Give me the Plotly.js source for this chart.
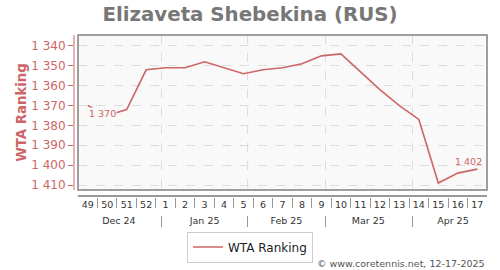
<!DOCTYPE html>
<html>
<head>
<meta charset="utf-8">
<script src="https://cdn.plot.ly/plotly-3.0.1.min.js"></script>
<style>html,body{margin:0;padding:0;background:#fff;}#chart{width:500px;height:270px;}</style>
</head>
<body>
<div id="chart"></div>
<script>
const weeks = ['49','50','51','52','1','2','3','4','5','6','7','8','9','10','11','12','13','14','15','16','17'];
const ranking = [1370,1375,1372,1352,1351,1351,1348,1351,1354,1352,1351,1349,1345,1344,1353,1362,1370,1377,1409,1404,1402];
const monthLabels = ['Dec 24','Jan 25','Feb 25','Mar 25','Apr 25'];
const monthCenters = [1.6, 6.0, 10.2, 14.4, 18.75];
const monthBounds = [3.78, 8.21, 12.22, 16.65];
const yTicks = [1340,1350,1360,1370,1380,1390,1400,1410];

const idx = weeks.map((w, i) => i);
const sepVals = weeks.slice(1).map((w, i) => i + 0.5);
const RED = '#cd6666';
const FONT = 'DejaVu Sans';
const xr = [-0.5, 20.5];
const fmt = v => String(v).replace(/(\d)(\d{3})$/, '$1 $2');

const traces = [
  {x: idx, y: ranking, type: 'scatter', mode: 'lines', name: 'WTA Ranking',
   line: {color: RED, width: 1.6}, xaxis: 'x', yaxis: 'y'},
  {x: [], y: [], type: 'scatter', xaxis: 'x2', yaxis: 'y', showlegend: false},
  {x: [], y: [], type: 'scatter', xaxis: 'x3', yaxis: 'y', showlegend: false},
  {x: [], y: [], type: 'scatter', xaxis: 'x4', yaxis: 'y', showlegend: false},
  {x: [], y: [], type: 'scatter', xaxis: 'x5', yaxis: 'y', showlegend: false}
];

const dom = [5/414, 1];
const P = y => (230 - y) / 195;
const base = {range: xr, domain: dom, anchor: 'free', overlaying: 'x', showgrid: false, zeroline: false, fixedrange: true};

const layout = {
  width: 500, height: 270,
  margin: {l: 73, r: 13, t: 35, b: 40, autoexpand: false},
  paper_bgcolor: '#ffffff',
  plot_bgcolor: '#f9f9f9',
  separators: ', ',
  font: {family: FONT, size: 11, color: '#333'},
  title: {text: 'Elizaveta Shebekina (RUS)', font: {family: FONT, size: 19.8, color: '#777777', weight: 'bold'},
          x: 0.5, xref: 'container', xanchor: 'center', y: 1 - 14/270, yref: 'container', yanchor: 'middle'},
  showlegend: true,
  legend: {orientation: 'h', x: (250-73)/414, xanchor: 'center', y: P(247), yanchor: 'middle',
           bordercolor: '#cccccc', borderwidth: 1, bgcolor: '#ffffff',
           font: {family: FONT, size: 12, color: '#222'}},
  xaxis: {range: xr, domain: dom, anchor: 'free', position: P(195),
          tickvals: monthBounds, showticklabels: false, ticks: '',
          showgrid: true, gridcolor: '#dddddd', griddash: 'dash', gridwidth: 1,
          showline: true, linecolor: '#999999', linewidth: 1.5, zeroline: false, fixedrange: true},
  xaxis2: Object.assign({}, base, {position: P(197), tickvals: idx, ticktext: weeks, ticks: '',
          tickfont: {family: FONT, size: 9.5, color: '#333'}, showline: false}),
  xaxis3: Object.assign({}, base, {position: P(197), tickvals: sepVals, showticklabels: false,
          ticks: 'outside', ticklen: 10, tickcolor: '#999999', tickwidth: 1, showline: false}),
  xaxis4: Object.assign({}, base, {position: P(215), tickvals: monthBounds, showticklabels: false,
          ticks: 'outside', ticklen: 11, tickcolor: '#999999', tickwidth: 1, showline: false}),
  xaxis5: Object.assign({}, base, {position: P(213), tickvals: monthCenters, ticktext: monthLabels, ticks: '',
          tickfont: {family: FONT, size: 9.5, color: '#333'}, showline: false}),
  yaxis: {domain: [P(190), 1], range: [1412.5, 1334.5], anchor: 'free', position: 0,
          tickvals: yTicks, tickformat: ',d', ticks: 'outside', ticklen: 5, tickcolor: RED,
          tickfont: {family: FONT, size: 12, color: RED},
          showline: true, linecolor: '#e3b3b3', linewidth: 1.5,
          showgrid: true, gridcolor: '#dddddd', griddash: 'dash', zeroline: false, fixedrange: true,
          title: {text: 'WTA Ranking', font: {family: FONT, size: 13.3, color: RED, weight: 'bold'}, standoff: 0}},
  shapes: [
    {type: 'rect', xref: 'x domain', yref: 'y domain', x0: 0, x1: 1, y0: 0, y1: 1,
     line: {color: '#808080', width: 1.5}, fillcolor: 'rgba(0,0,0,0)'}
  ],
  annotations: [
    {x: idx[0], y: ranking[0], xref: 'x', yref: 'y', text: fmt(ranking[0]),
     showarrow: false, xanchor: 'left', yanchor: 'middle', xshift: 0, yshift: -8,
     font: {family: FONT, size: 9.5, color: RED}, bgcolor: '#f9f9f9', borderpad: 0},
    {x: idx[idx.length-1], y: ranking[ranking.length-1], xref: 'x', yref: 'y',
     text: fmt(ranking[ranking.length-1]),
     showarrow: false, xanchor: 'center', yanchor: 'middle', xshift: -9, yshift: 8,
     font: {family: FONT, size: 9.5, color: RED}},
    {x: 1, y: P(263), xref: 'paper', yref: 'paper', xanchor: 'right', yanchor: 'middle',
     text: '© www.coretennis.net, 12-17-2025', showarrow: false,
     font: {family: FONT, size: 9.5, color: '#555'}}
  ]
};

Plotly.newPlot('chart', traces, layout, {staticPlot: true, displayModeBar: false});
</script>
</body>
</html>
